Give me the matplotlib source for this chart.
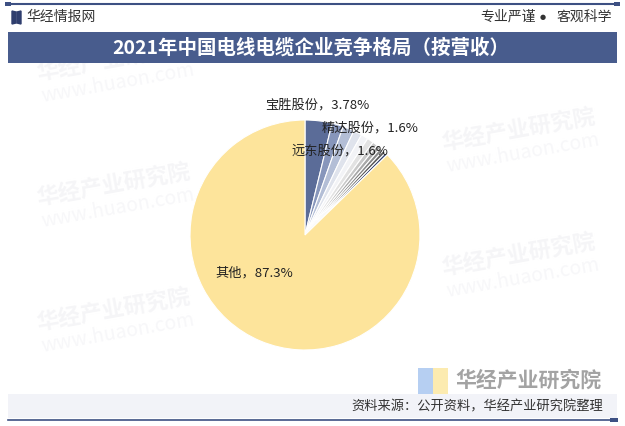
import matplotlib.pyplot as plt
from matplotlib.patches import Rectangle, Polygon

plt.rcParams['font.family'] = ['Noto Sans CJK SC', 'DejaVu Sans']

# data
names = ['宝胜股份', '精达股份', '远东股份',
         '', '', '', '', '', '', '', '',
         '其他']
shares = [3.78, 1.6, 1.6,
          1.2, 1.0, 0.9, 0.7, 0.6, 0.5, 0.45, 0.37,
          87.3]
colors = ['#5b6c98', '#8796bb', '#b3bed6',
          '#dfe3ec', '#f2f3f6', '#e2e2e2', '#c8c8c8', '#a8a8a8',
          '#888888', '#5c5c5c', '#33416b',
          '#fde49b']
shown = ['宝胜股份', '精达股份', '远东股份', '其他']

W, H = 625, 426
fig = plt.figure(figsize=(W / 100, H / 100), dpi=100)
fig.patch.set_facecolor('white')


def fx(x):
    return x / W


def fy(y):
    return 1 - y / H


def rect(x0, y0, x1, y1, color, z=0):
    fig.patches.append(Rectangle((fx(x0), fy(y1)), fx(x1 - x0), (y1 - y0) / H,
                                 transform=fig.transFigure, color=color,
                                 zorder=z, lw=0))


# faint watermarks
for (x, y) in [(35, 80), (35, 205), (35, 330), (440, 150), (440, 275)]:
    fig.text(fx(x), fy(y), '华经产业研究院', fontsize=16, color='#f5f5f7',
             rotation=10, weight='bold', zorder=0)
    fig.text(fx(x + 5), fy(y + 22), 'www.huaon.com', fontsize=14, color='#f7f7f9',
             rotation=10, zorder=0)

# top line and header
fig.lines.append(plt.Line2D([fx(8), fx(617)], [fy(4), fy(4)], transform=fig.transFigure,
                            color='#3d5083', lw=1.5))
rect(5, 2, 11, 6, '#3d5083')
rect(614, 2, 620, 6, '#3d5083')
fig.patches.append(Polygon([(fx(12), fy(11)), (fx(16), fy(12)), (fx(16), fy(23)), (fx(12), fy(24))],
                           transform=fig.transFigure, color='#2f3e6e'))
fig.patches.append(Polygon([(fx(17), fy(12)), (fx(21), fy(11)), (fx(21), fy(24)), (fx(17), fy(23))],
                           transform=fig.transFigure, color='#2f3e6e'))
fig.text(fx(26), fy(17), '华经情报网', fontsize=10, color='#333333', va='center')
fig.text(fx(612), fy(17), '客观科学', fontsize=10, color='#333333',
         va='center', ha='right')
fig.text(fx(543), fy(17), '●', fontsize=5, color='#333333',
         va='center', ha='center', family='DejaVu Sans')
fig.text(fx(536), fy(17), '专业严谨', fontsize=10, color='#333333',
         va='center', ha='right')

# title band
rect(8, 32, 617, 63, '#485c8d', z=1)
fig.text(fx(311), fy(47.5), '2021年中国电线电缆企业竞争格局（按营收）', fontsize=14,
         color='white', weight='bold', ha='center', va='center', zorder=2)

# bottom band
rect(8, 394, 617, 418, '#f2f3f8')
fig.lines.append(plt.Line2D([fx(8), fx(617)], [fy(420), fy(420)], transform=fig.transFigure,
                            color='#3d5083', lw=1.2))
rect(610, 418, 618, 422, '#3d5083')

# bottom-right logo
rect(418, 368, 433, 394, '#b6cff2', z=1)
rect(433, 368, 448, 394, '#fcebb0', z=1)
fig.text(fx(455), fy(380), '华经产业研究院', fontsize=15, color='#a3a3a3',
         weight='bold', va='center', zorder=2)
fig.text(fx(603), fy(407), '资料来源：公开资料，华经产业研究院整理', fontsize=9.5,
         color='#333333', ha='right', va='center', zorder=3)

# pie
cx, cy, r = 305, 235, 115
ax = fig.add_axes([fx(cx - r), fy(cy + r), 2 * r / W, 2 * r / H])
ax.set_zorder(5)
ax.patch.set_visible(False)
ax.pie(shares, colors=colors, startangle=90, counterclock=False,
       wedgeprops=dict(edgecolor='white', linewidth=0.8))
ax.set_xlim(-1, 1)
ax.set_ylim(-1, 1)
ax.set_aspect('equal')
ax.axis('off')

label_pos = {'宝胜股份': (0.11, 1.13), '精达股份': (0.57, 0.93),
             '远东股份': (0.30, 0.73), '其他': (-0.44, -0.33)}
for n, v in zip(names, shares):
    if n in shown:
        x, y = label_pos[n]
        ax.text(x, y, f'{n}，{v:g}%', fontsize=9.5, color='#222222',
                ha='center', va='center', clip_on=False)

fig.savefig('out.png', dpi=100)
